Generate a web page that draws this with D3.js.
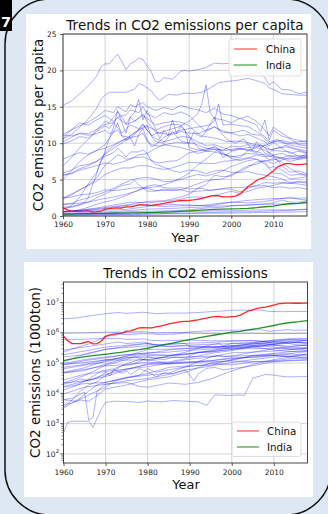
<!DOCTYPE html>
<html>
<head>
<meta charset="utf-8">
<script src="https://cdn.jsdelivr.net/npm/d3@7"></script>
<style>
  html, body { margin: 0; padding: 0; background: #dde8f4; }
  svg { display: block; font-family: "DejaVu Sans", sans-serif; }
</style>
</head>
<body>
<svg id="fig" width="328" height="514"></svg>
<script>
// ---------------------------------------------------------------
// Data: [year, value] pairs
// ---------------------------------------------------------------
const xTicks = [1960, 1970, 1980, 1990, 2000, 2010];
const perCapitaTicks = [0, 5, 10, 15, 20, 25];
const totalTickExponents = [2, 3, 4, 5, 6, 7];
const legendLabels = ["China", "India"];

// CO2 emissions per capita (metric tons)
const chinaPerCapita = [[1960,1.17],[1961,0.84],[1962,0.66],[1963,0.64],[1964,0.63],[1965,0.66],[1966,0.71],[1967,0.58],[1968,0.59],[1969,0.67],[1970,0.93],[1971,1.02],[1972,1.07],[1973,1.10],[1974,1.10],[1975,1.24],[1976,1.25],[1977,1.37],[1978,1.52],[1979,1.53],[1980,1.49],[1981,1.46],[1982,1.56],[1983,1.63],[1984,1.73],[1985,1.86],[1986,1.94],[1987,2.03],[1988,2.13],[1989,2.13],[1990,2.15],[1991,2.22],[1992,2.30],[1993,2.43],[1994,2.55],[1995,2.74],[1996,2.80],[1997,2.78],[1998,2.64],[1999,2.62],[2000,2.66],[2001,2.74],[2002,3.00],[2003,3.50],[2004,4.06],[2005,4.44],[2006,4.88],[2007,5.15],[2008,5.31],[2009,5.76],[2010,6.17],[2011,6.75],[2012,7.00],[2013,7.20],[2014,7.20],[2015,7.10],[2016,7.05],[2017,7.10],[2018,7.15]];

const indiaPerCapita = [[1960,0.27],[1962,0.30],[1964,0.32],[1966,0.34],[1968,0.35],[1970,0.36],[1972,0.38],[1974,0.39],[1976,0.42],[1978,0.43],[1980,0.45],[1982,0.49],[1984,0.53],[1986,0.58],[1988,0.65],[1990,0.71],[1992,0.78],[1994,0.84],[1996,0.90],[1998,0.94],[2000,0.98],[2002,1.00],[2004,1.05],[2006,1.14],[2008,1.27],[2010,1.36],[2012,1.55],[2014,1.68],[2016,1.73],[2018,1.90]];

const otherPerCapita = [
  [[1960,15.2],[1962,15.8],[1964,16.8],[1966,17.9],[1968,19.2],[1969,20.5],[1970,20.9],[1971,20.9],[1972,21.6],[1973,22.2],[1974,21.2],[1975,20.1],[1976,20.9],[1977,21.2],[1978,21.7],[1979,21.5],[1980,20.6],[1981,19.8],[1982,18.4],[1983,18.5],[1984,19.0],[1985,18.9],[1986,18.8],[1987,19.3],[1988,19.9],[1989,20.0],[1990,19.9],[1992,20.1],[1994,20.4],[1996,21.0],[1998,20.9],[2000,21.0],[2001,20.6],[2003,20.4],[2005,20.2],[2006,19.8],[2007,19.6],[2008,19.0],[2009,18.0],[2010,18.4],[2011,17.9],[2012,17.4],[2014,17.3],[2016,16.8],[2018,17.0]],
  [[1960,10.6],[1962,11.2],[1964,12.2],[1966,13.3],[1968,14.8],[1969,16.0],[1970,16.6],[1971,17.0],[1973,17.0],[1975,17.0],[1977,17.4],[1978,18.2],[1979,18.0],[1980,17.6],[1981,17.2],[1982,16.4],[1983,15.9],[1985,16.7],[1987,16.6],[1989,16.9],[1991,16.8],[1993,17.0],[1995,17.6],[1997,18.3],[1999,18.5],[2001,18.6],[2004,18.9],[2006,18.6],[2008,18.2],[2009,17.6],[2010,17.4],[2012,16.8],[2014,16.7],[2016,16.6],[2018,16.6]],
  [[1960,11.2],[1962,11.8],[1964,12.4],[1966,12.9],[1968,13.6],[1970,14.5],[1972,14.2],[1973,15.0],[1975,14.3],[1976,15.3],[1977,15.0],[1979,15.6],[1980,15.0],[1982,14.5],[1984,14.9],[1986,14.6],[1988,15.2],[1990,14.8],[1992,14.6],[1994,14.2],[1996,14.8],[1998,14.0],[2000,13.8],[2002,13.4],[2004,13.7],[2006,13.0],[2008,11.8],[2009,11.0],[2010,12.2],[2012,11.4],[2014,10.7],[2016,10.4],[2018,10.2]],
  [[1960,10.6],[1962,11.9],[1964,12.8],[1966,12.5],[1968,13.2],[1970,13.8],[1972,13.0],[1973,13.6],[1975,13.9],[1976,14.6],[1978,14.2],[1979,15.0],[1980,14.0],[1982,13.5],[1984,14.2],[1986,13.9],[1988,14.3],[1990,13.8],[1992,12.6],[1994,11.6],[1996,12.3],[1998,11.5],[2000,11.4],[2003,11.8],[2005,11.2],[2007,11.1],[2009,10.0],[2011,10.3],[2013,9.9],[2015,9.6],[2018,9.3]],
  [[1960,11.1],[1962,11.0],[1964,11.3],[1966,11.1],[1968,11.3],[1970,11.8],[1971,11.3],[1973,11.8],[1974,11.0],[1976,10.8],[1978,11.0],[1979,11.4],[1980,10.3],[1981,9.8],[1983,9.6],[1985,9.9],[1987,10.1],[1989,10.0],[1991,10.0],[1993,9.5],[1995,9.2],[1997,9.1],[1999,9.0],[2001,9.3],[2003,9.2],[2005,9.0],[2007,8.7],[2009,7.7],[2010,7.9],[2012,7.4],[2014,6.5],[2016,5.9],[2018,5.6]],
  [[1960,10.2],[1962,10.8],[1964,11.4],[1966,11.3],[1968,11.9],[1970,12.6],[1972,12.8],[1973,13.5],[1975,12.6],[1977,13.0],[1979,13.8],[1980,13.4],[1982,12.5],[1984,12.8],[1986,13.0],[1988,12.9],[1990,12.4],[1991,11.8],[1993,11.0],[1995,10.8],[1997,10.6],[1999,10.2],[2001,10.3],[2003,10.2],[2005,9.9],[2007,9.7],[2009,9.1],[2011,9.3],[2013,9.5],[2015,9.2],[2018,8.7]],
  [[1960,9.9],[1962,10.3],[1964,10.9],[1966,10.7],[1968,11.8],[1970,13.0],[1971,12.8],[1973,14.3],[1974,13.6],[1975,12.6],[1976,13.6],[1977,13.0],[1979,14.0],[1980,13.0],[1982,11.5],[1984,11.3],[1986,11.2],[1988,11.6],[1990,11.4],[1992,11.3],[1994,11.8],[1996,12.2],[1998,11.7],[2000,11.4],[2002,11.0],[2004,11.2],[2006,10.7],[2008,10.2],[2009,9.6],[2010,10.1],[2012,9.3],[2014,8.6],[2016,8.9],[2018,8.6]],
  [[1960,7.8],[1962,8.3],[1964,8.7],[1966,8.5],[1968,9.0],[1970,9.3],[1972,9.8],[1974,10.3],[1976,11.0],[1978,11.8],[1980,12.3],[1982,11.8],[1984,12.3],[1986,12.6],[1988,12.5],[1990,10.9],[1992,9.4],[1994,8.9],[1996,9.2],[1998,8.5],[2000,8.1],[2002,8.3],[2004,8.6],[2006,8.5],[2008,8.4],[2010,8.1],[2012,8.0],[2014,7.8],[2016,8.0],[2018,8.2]],
  [[1960,6.9],[1962,8.0],[1964,9.4],[1966,10.5],[1968,11.6],[1970,12.4],[1971,12.0],[1972,12.8],[1974,11.4],[1976,12.5],[1978,12.0],[1979,12.6],[1980,11.8],[1982,10.2],[1984,10.0],[1986,11.6],[1988,10.3],[1990,10.0],[1991,11.5],[1993,10.8],[1994,11.7],[1996,13.6],[1997,11.8],[1999,10.5],[2001,10.0],[2003,10.6],[2005,9.0],[2006,10.2],[2008,8.6],[2010,8.3],[2012,6.9],[2014,6.0],[2016,6.2],[2018,5.8]],
  [[1960,5.9],[1962,6.3],[1964,6.9],[1966,7.1],[1968,7.5],[1970,8.2],[1972,8.7],[1973,9.3],[1974,8.8],[1975,8.1],[1976,8.8],[1978,8.8],[1979,9.1],[1980,8.6],[1981,7.6],[1982,7.1],[1984,6.7],[1986,6.2],[1988,6.0],[1990,6.3],[1992,6.2],[1994,5.8],[1996,6.2],[1998,6.3],[2000,6.0],[2002,6.0],[2004,6.1],[2006,5.8],[2008,5.6],[2010,5.4],[2012,5.1],[2014,4.6],[2016,4.7],[2018,4.5]],
  [[1960,2.5],[1962,3.0],[1964,3.6],[1966,4.2],[1968,5.2],[1970,7.0],[1971,7.4],[1973,8.4],[1974,8.2],[1975,7.8],[1977,8.0],[1979,8.1],[1980,7.9],[1982,7.4],[1983,7.3],[1985,7.5],[1987,7.6],[1989,8.3],[1990,8.7],[1992,8.9],[1994,9.2],[1996,9.4],[1998,9.0],[2000,9.6],[2002,9.5],[2004,9.8],[2006,9.6],[2007,9.8],[2008,9.4],[2009,8.6],[2010,9.2],[2012,9.5],[2013,9.7],[2015,9.3],[2018,8.9]],
  [[1960,0.5],[1963,0.7],[1966,1.2],[1969,1.8],[1972,2.2],[1975,2.8],[1978,3.6],[1980,3.9],[1982,4.0],[1984,4.3],[1986,4.7],[1988,5.2],[1990,5.9],[1992,7.0],[1994,7.8],[1996,8.7],[1997,9.2],[1998,8.0],[2000,8.9],[2002,9.2],[2004,9.4],[2006,9.5],[2008,9.7],[2010,10.2],[2012,10.4],[2014,10.1],[2016,10.2],[2018,10.3]],
  [[1960,0.9],[1962,1.4],[1964,2.6],[1966,4.4],[1968,6.0],[1969,7.5],[1970,8.9],[1971,10.6],[1972,12.2],[1973,14.5],[1974,12.8],[1975,11.4],[1976,13.6],[1977,14.2],[1978,16.0],[1979,13.2],[1980,14.5],[1981,13.1],[1982,12.0],[1983,10.6],[1984,11.8],[1985,11.0],[1986,13.2],[1987,11.3],[1988,12.4],[1990,13.0],[1991,13.5],[1992,14.0],[1993,15.4],[1994,18.0],[1995,14.2],[1996,13.4],[1998,13.2],[2000,12.8],[2002,13.4],[2004,13.0],[2006,12.5],[2007,11.6],[2008,13.2],[2009,10.4],[2010,11.8],[2012,11.0],[2014,10.6],[2016,9.8],[2018,9.6]],
  [[1960,5.0],[1962,6.2],[1964,7.5],[1966,8.4],[1968,9.0],[1970,9.8],[1972,11.5],[1973,12.8],[1974,11.0],[1975,10.4],[1976,10.8],[1977,9.6],[1978,11.2],[1979,12.0],[1980,10.5],[1981,9.5],[1982,9.8],[1984,10.8],[1986,11.4],[1988,11.8],[1990,12.0],[1992,12.2],[1994,12.4],[1995,12.6],[1996,13.0],[1997,15.4],[1998,12.5],[2000,12.6],[2002,12.4],[2004,12.3],[2006,11.6],[2008,10.9],[2009,10.2],[2011,10.5],[2013,10.0],[2015,9.9],[2018,9.9]],
  [[1960,1.2],[1962,1.3],[1964,1.6],[1965,1.8],[1966,2.5],[1967,4.2],[1968,5.8],[1969,7.5],[1970,8.6],[1971,9.2],[1972,9.6],[1974,10.4],[1976,10.6],[1978,11.8],[1979,12.6],[1980,11.8],[1982,10.6],[1984,10.2],[1986,10.5],[1988,10.9],[1990,10.8],[1992,10.2],[1994,9.7],[1996,9.8],[1998,9.4],[2000,9.0],[2002,9.2],[2004,9.0],[2006,9.4],[2008,9.0],[2010,8.4],[2012,8.6],[2014,8.2],[2016,8.3],[2018,8.3]],
  [[1960,5.6],[1962,5.8],[1964,6.3],[1966,6.6],[1968,6.9],[1970,7.3],[1972,7.1],[1974,7.4],[1976,7.8],[1978,8.4],[1980,8.6],[1982,9.3],[1984,9.8],[1986,9.6],[1988,9.4],[1990,9.1],[1992,8.6],[1994,8.9],[1996,8.8],[1998,8.5],[2000,8.2],[2002,8.0],[2004,9.0],[2006,8.7],[2008,9.8],[2009,9.2],[2010,9.0],[2012,8.9],[2014,8.8],[2016,8.2],[2018,8.0]],
  [[1960,2.3],[1962,2.9],[1964,3.6],[1966,4.2],[1968,4.8],[1970,5.7],[1972,6.2],[1974,6.6],[1976,6.6],[1978,6.9],[1980,6.9],[1982,6.6],[1984,6.4],[1986,6.6],[1988,7.0],[1990,7.4],[1992,7.3],[1994,7.2],[1996,7.2],[1998,7.5],[2000,7.6],[2002,7.8],[2004,8.0],[2006,7.8],[2008,7.4],[2009,6.6],[2010,6.8],[2012,6.3],[2014,5.6],[2016,5.7],[2018,5.6]],
  [[1960,1.6],[1962,1.7],[1964,2.2],[1966,2.5],[1968,2.9],[1970,3.3],[1972,3.8],[1974,4.4],[1976,4.9],[1978,5.2],[1980,5.3],[1982,5.1],[1984,4.7],[1986,4.8],[1988,5.0],[1990,5.4],[1992,5.7],[1994,5.5],[1996,5.8],[1998,6.2],[2000,6.8],[2002,7.2],[2004,7.6],[2006,7.8],[2008,7.1],[2010,5.9],[2012,5.8],[2014,5.1],[2016,5.2],[2018,5.4]],
  [[1960,1.0],[1962,1.2],[1964,1.5],[1966,1.9],[1968,2.5],[1970,3.0],[1972,3.6],[1974,4.2],[1976,4.4],[1977,4.9],[1978,4.3],[1980,3.4],[1982,3.4],[1984,3.7],[1986,3.5],[1988,3.6],[1990,4.0],[1992,4.4],[1994,4.8],[1996,5.0],[1998,5.1],[2000,5.7],[2002,6.1],[2004,6.7],[2006,7.4],[2008,7.6],[2010,7.7],[2012,8.0],[2014,8.3],[2016,8.0],[2018,8.6]],
  [[1960,1.6],[1963,1.7],[1966,1.9],[1969,2.3],[1972,2.6],[1975,3.0],[1978,3.5],[1980,4.1],[1982,4.3],[1984,3.9],[1986,3.8],[1988,3.9],[1990,3.7],[1993,3.8],[1995,3.5],[1998,3.8],[2000,3.9],[2002,3.9],[2004,4.0],[2006,4.1],[2008,4.2],[2010,3.9],[2012,4.0],[2014,3.8],[2016,3.9],[2018,3.7]],
  [[1960,2.5],[1962,2.6],[1964,2.9],[1966,3.0],[1968,3.2],[1970,3.6],[1972,3.5],[1974,3.6],[1976,3.8],[1978,3.9],[1980,3.8],[1982,3.5],[1984,3.5],[1986,3.6],[1988,3.6],[1990,3.3],[1992,3.4],[1994,3.5],[1996,3.6],[1998,3.7],[2000,3.7],[2002,3.3],[2004,3.8],[2006,4.2],[2008,4.6],[2010,4.5],[2012,4.6],[2014,4.5],[2016,4.4],[2018,4.2]],
  [[1960,0.6],[1964,0.8],[1968,1.1],[1972,1.5],[1976,1.9],[1980,1.8],[1984,2.0],[1988,2.3],[1990,2.6],[1994,2.6],[1998,3.1],[2000,3.4],[2002,3.1],[2004,3.4],[2006,3.8],[2008,4.0],[2010,4.2],[2012,4.5],[2014,4.5],[2016,4.7],[2018,4.7]],
  [[1960,0.65],[1964,0.71],[1968,0.9],[1972,1.2],[1976,1.5],[1980,1.5],[1984,1.3],[1988,1.4],[1990,1.4],[1994,1.5],[1998,1.8],[2000,1.9],[2004,1.8],[2008,2.0],[2010,2.2],[2012,2.4],[2014,2.6],[2016,2.3],[2018,2.2]],
  [[1960,0.6],[1964,0.8],[1968,1.0],[1972,1.3],[1976,1.6],[1980,2.0],[1984,2.1],[1988,2.6],[1990,3.0],[1992,3.8],[1994,4.3],[1996,5.6],[1998,5.4],[2000,5.5],[2002,6.3],[2004,6.9],[2006,7.1],[2008,7.6],[2010,7.2],[2012,7.7],[2014,8.0],[2016,7.8],[2018,7.9]],
  [[1960,0.25],[1964,0.27],[1968,0.3],[1972,0.45],[1976,0.6],[1980,0.65],[1984,0.7],[1988,0.8],[1990,0.85],[1994,1.1],[1998,1.2],[2000,1.4],[2004,1.5],[2008,1.7],[2010,1.8],[2012,2.2],[2014,1.9],[2016,1.9],[2018,2.1]],
  [[1960,0.3],[1965,0.35],[1970,0.38],[1975,0.42],[1980,0.45],[1985,0.55],[1990,0.62],[1995,0.7],[2000,0.72],[2005,0.82],[2010,0.85],[2014,0.82],[2018,0.95]],
  [[1960,5.6],[1962,5.9],[1964,6.5],[1966,6.9],[1968,7.5],[1970,8.5],[1972,9.3],[1974,10.0],[1976,11.0],[1978,11.9],[1980,12.5],[1981,11.0],[1982,11.3],[1984,11.6],[1986,12.0],[1988,12.3],[1989,11.8],[1990,9.4],[1992,9.1],[1994,9.0],[1996,9.6],[1998,8.7],[2000,7.9],[2002,7.6],[2004,7.9],[2006,8.4],[2008,8.1],[2010,8.3],[2012,7.9],[2014,7.5],[2016,7.8],[2018,8.2]],
  [[1960,0.6],[1965,0.75],[1970,0.8],[1975,0.9],[1980,1.3],[1985,1.6],[1990,1.5],[1995,1.4],[2000,1.9],[2005,2.2],[2010,2.4],[2014,2.4],[2018,2.5]],
  [[1960,0.15],[1965,0.2],[1970,0.2],[1975,0.25],[1980,0.3],[1985,0.35],[1990,0.42],[1995,0.5],[2000,0.55],[2005,0.6],[2010,0.7],[2014,0.8],[2018,0.9]],
  [[1960,0.1],[1965,0.12],[1970,0.16],[1975,0.2],[1980,0.25],[1985,0.3],[1990,0.33],[1995,0.38],[2000,0.4],[2005,0.45],[2010,0.5],[2014,0.55],[2018,0.6]],
  [[1960,0.4],[1964,0.45],[1968,0.5],[1972,0.62],[1976,0.75],[1980,0.95],[1984,1.0],[1988,1.1],[1992,1.2],[1996,1.35],[2000,1.4],[2004,1.5],[2008,1.6],[2012,1.65],[2016,1.7],[2018,1.75]]
];

// Total CO2 emissions (kt)
const chinaTotal = [[1960,7.8e5],[1961,5.5e5],[1962,4.4e5],[1963,4.4e5],[1964,4.4e5],[1965,4.8e5],[1966,5.2e5],[1967,4.3e5],[1968,4.4e5],[1969,5.4e5],[1970,7.7e5],[1971,8.6e5],[1972,9.1e5],[1973,9.5e5],[1974,9.8e5],[1975,1.14e6],[1976,1.17e6],[1977,1.31e6],[1978,1.46e6],[1979,1.49e6],[1980,1.47e6],[1981,1.46e6],[1982,1.58e6],[1983,1.67e6],[1984,1.81e6],[1985,1.97e6],[1986,2.08e6],[1987,2.21e6],[1988,2.35e6],[1989,2.39e6],[1990,2.42e6],[1991,2.56e6],[1992,2.70e6],[1993,2.88e6],[1994,3.06e6],[1995,3.32e6],[1996,3.46e6],[1997,3.47e6],[1998,3.32e6],[1999,3.32e6],[2000,3.41e6],[2001,3.49e6],[2002,3.85e6],[2003,4.52e6],[2004,5.29e6],[2005,5.79e6],[2006,6.41e6],[2007,6.79e6],[2008,7.04e6],[2009,7.69e6],[2010,8.26e6],[2011,9.09e6],[2012,9.37e6],[2013,9.55e6],[2014,9.55e6],[2015,9.50e6],[2016,9.50e6],[2017,9.55e6],[2018,9.60e6]];

const indiaTotal = [[1960,1.2e5],[1962,1.37e5],[1964,1.55e5],[1966,1.7e5],[1968,1.85e5],[1970,1.96e5],[1972,2.15e5],[1974,2.3e5],[1976,2.6e5],[1978,2.8e5],[1980,3.1e5],[1982,3.55e5],[1984,4.05e5],[1986,4.6e5],[1988,5.3e5],[1990,6.0e5],[1992,6.8e5],[1994,7.6e5],[1996,8.5e5],[1998,9.4e5],[2000,1.05e6],[2002,1.12e6],[2004,1.25e6],[2006,1.38e6],[2008,1.55e6],[2010,1.75e6],[2012,2.0e6],[2014,2.2e6],[2016,2.35e6],[2018,2.55e6]];

const otherTotal = [
  [[1960,2.9e6],[1963,3.1e6],[1966,3.6e6],[1969,4.1e6],[1970,4.3e6],[1973,4.7e6],[1975,4.4e6],[1977,4.6e6],[1979,4.8e6],[1982,4.3e6],[1985,4.5e6],[1989,4.5e6],[1992,4.7e6],[1995,5.0e6],[1998,5.3e6],[2000,5.6e6],[2003,5.6e6],[2005,5.7e6],[2007,5.6e6],[2009,5.1e6],[2012,5.0e6],[2015,5.1e6],[2018,5.1e6]],
  [[1960,9.8e5],[1965,1.0e6],[1970,1.05e6],[1975,1.04e6],[1979,1.1e6],[1982,1.0e6],[1985,1.02e6],[1989,1.0e6],[1992,9.6e5],[1996,9.5e5],[2000,9.4e5],[2004,9.6e5],[2008,9.5e5],[2012,9.4e5],[2018,9.6e5]],
  [[1960,2.3e5],[1962,2.9e5],[1964,3.6e5],[1966,4.3e5],[1968,5.6e5],[1970,7.7e5],[1972,8.2e5],[1973,9.2e5],[1975,8.7e5],[1977,9.0e5],[1979,9.4e5],[1981,9.2e5],[1983,8.8e5],[1985,9.0e5],[1987,9.2e5],[1989,1.03e6],[1991,1.1e6],[1994,1.16e6],[1997,1.19e6],[2000,1.22e6],[2003,1.24e6],[2005,1.24e6],[2007,1.26e6],[2009,1.12e6],[2011,1.2e6],[2013,1.27e6],[2015,1.22e6],[2018,1.25e6]],
  [[1960,5.9e5],[1965,6.2e5],[1970,6.5e5],[1973,6.6e5],[1975,6.1e5],[1979,6.3e5],[1981,5.6e5],[1984,5.5e5],[1989,5.8e5],[1995,5.5e5],[2000,5.5e5],[2005,5.5e5],[2009,4.9e5],[2012,4.9e5],[2015,4.1e5],[2018,3.9e5]],
  [[1960,2.7e5],[1965,3.4e5],[1970,4.3e5],[1973,5.0e5],[1975,4.4e5],[1979,5.0e5],[1981,4.3e5],[1985,3.6e5],[1989,3.7e5],[1995,3.5e5],[2000,3.6e5],[2005,3.8e5],[2010,3.4e5],[2014,2.9e5],[2018,3.0e5]],
  [[1960,1.1e5],[1965,2.0e5],[1970,2.9e5],[1975,3.3e5],[1980,3.7e5],[1985,3.5e5],[1989,3.9e5],[1995,4.2e5],[2000,4.4e5],[2005,4.6e5],[2010,4.0e5],[2014,3.2e5],[2018,3.3e5]],
  [[1960,1.9e5],[1965,2.5e5],[1970,3.4e5],[1975,3.9e5],[1979,4.4e5],[1983,3.9e5],[1989,4.5e5],[1995,4.8e5],[2000,5.3e5],[2005,5.6e5],[2009,5.1e5],[2014,5.4e5],[2018,5.6e5]],
  [[1960,1.6e5],[1965,1.9e5],[1970,2.8e5],[1975,3.6e5],[1980,4.5e5],[1982,3.9e5],[1987,4.6e5],[1989,4.4e5],[1990,3.5e5],[1995,3.4e5],[2000,3.0e5],[2005,3.0e5],[2010,3.1e5],[2014,2.9e5],[2018,3.1e5]],
  [[1960,8.8e4],[1965,1.2e5],[1970,1.5e5],[1975,1.9e5],[1980,2.2e5],[1985,2.3e5],[1989,2.6e5],[1995,2.9e5],[2000,3.4e5],[2005,3.7e5],[2009,4.0e5],[2014,3.6e5],[2018,3.9e5]],
  [[1960,6.5e4],[1965,8.5e4],[1970,1.1e5],[1975,1.7e5],[1980,2.8e5],[1985,2.9e5],[1989,3.1e5],[1995,3.2e5],[2000,3.8e5],[2005,4.3e5],[2010,4.4e5],[2014,4.7e5],[2018,4.7e5]],
  [[1960,9.8e4],[1965,1.3e5],[1970,1.6e5],[1975,1.9e5],[1980,2.1e5],[1985,2.7e5],[1989,3.0e5],[1995,3.4e5],[2000,3.7e5],[2005,4.2e5],[2008,4.9e5],[2010,4.6e5],[2014,4.9e5],[2018,4.6e5]],
  [[1960,1.3e4],[1963,1.8e4],[1966,3.0e4],[1969,5.5e4],[1972,6.5e4],[1975,9.5e4],[1978,1.3e5],[1980,1.3e5],[1984,1.6e5],[1989,2.3e5],[1992,3.1e5],[1995,4.0e5],[1997,4.5e5],[1998,3.7e5],[2000,4.5e5],[2005,4.8e5],[2010,5.8e5],[2014,5.9e5],[2018,6.2e5]],
  [[1960,2.2e4],[1965,3.9e4],[1970,8.5e4],[1974,1.2e5],[1977,1.6e5],[1980,1.2e5],[1985,1.7e5],[1989,1.9e5],[1995,2.6e5],[2000,3.4e5],[2005,4.6e5],[2010,5.7e5],[2014,6.5e5],[2018,6.6e5]],
  [[1960,3.5e3],[1962,6.0e3],[1964,1.2e4],[1966,1.9e4],[1968,2.4e4],[1970,3.9e4],[1972,5.6e4],[1974,8.3e4],[1976,8.8e4],[1978,1.1e5],[1980,1.6e5],[1982,1.4e5],[1984,1.3e5],[1986,1.6e5],[1989,1.5e5],[1992,2.3e5],[1995,2.3e5],[2000,2.9e5],[2005,3.7e5],[2010,5.2e5],[2014,6.0e5],[2018,5.4e5]],
  [[1960,2.2e4],[1965,2.6e4],[1970,3.6e4],[1975,6.0e4],[1980,9.5e4],[1985,1.1e5],[1989,1.4e5],[1995,2.1e5],[2000,2.6e5],[2005,3.4e5],[2010,4.1e5],[2014,4.6e5],[2018,5.8e5]],
  [[1960,4.7e4],[1965,5.7e4],[1970,9.2e4],[1975,1.5e5],[1980,1.8e5],[1985,1.8e5],[1989,2.0e5],[1995,2.5e5],[2000,3.2e5],[2005,3.4e5],[2010,4.2e5],[2014,5.2e5],[2018,4.5e5]],
  [[1960,1.7e4],[1965,2.5e4],[1970,4.2e4],[1975,6.4e4],[1980,7.6e4],[1985,1.0e5],[1989,1.3e5],[1995,1.6e5],[2000,2.2e5],[2005,2.3e5],[2010,3.0e5],[2014,3.5e5],[2018,4.0e5]],
  [[1960,5.0e4],[1965,7.0e4],[1970,1.2e5],[1975,1.7e5],[1980,2.0e5],[1985,1.8e5],[1989,2.0e5],[1995,2.4e5],[2000,2.8e5],[2005,3.5e5],[2010,2.7e5],[2014,2.4e5],[2018,2.6e5]],
  [[1960,3.3e3],[1962,4.8e3],[1964,7.0e3],[1966,1.2e4],[1968,1.9e4],[1970,2.3e4],[1975,3.3e4],[1980,4.0e4],[1985,4.7e4],[1989,7.5e4],[1992,1.1e5],[1995,1.6e5],[1997,1.8e5],[1998,1.6e5],[2000,1.7e5],[2005,2.3e5],[2010,2.5e5],[2014,2.8e5],[2018,3.0e5]],
  [[1960,5.0e2],[1961,1.1e3],[1962,1.2e3],[1964,1.2e3],[1966,1.2e3],[1967,7.5e2],[1968,1.5e3],[1969,3.0e3],[1970,5.0e3],[1972,5.5e3],[1975,5.4e3],[1978,5.0e3],[1980,5.6e3],[1983,5.2e3],[1986,5.8e3],[1989,5.5e3],[1992,5.3e3],[1994,4.0e3],[1996,9.0e3],[1999,8.5e3],[2002,9.0e3],[2003,8.5e3],[2005,3.2e4],[2008,4.2e4],[2010,4.0e4],[2013,3.5e4],[2018,3.6e4]],
  [[1960,7.3e4],[1965,9.0e4],[1970,1.3e5],[1975,1.5e5],[1980,1.6e5],[1985,1.5e5],[1989,1.6e5],[1995,1.7e5],[2000,1.7e5],[2005,1.8e5],[2010,1.8e5],[2014,1.6e5],[2018,1.6e5]],
  [[1960,9.0e4],[1965,1.05e5],[1970,1.27e5],[1975,1.25e5],[1980,1.3e5],[1985,1.0e5],[1989,1.05e5],[1995,1.1e5],[2000,1.18e5],[2005,1.1e5],[2010,1.15e5],[2014,1.25e5],[2018,1.3e5]],
  [[1960,4.8e4],[1965,6.2e4],[1970,8.2e4],[1975,8.9e4],[1980,1.07e5],[1985,9.6e4],[1989,1.1e5],[1995,1.2e5],[2000,1.4e5],[2005,1.6e5],[2010,1.8e5],[2014,2.0e5],[2018,1.8e5]],
  [[1960,1.6e4],[1965,2.1e4],[1970,2.3e4],[1975,3.4e4],[1980,4.5e4],[1985,7.2e4],[1989,8.0e4],[1995,8.5e4],[2000,1.3e5],[2005,1.7e5],[2010,2.0e5],[2014,2.1e5],[2018,2.4e5]],
  [[1960,2.8e4],[1965,4.3e4],[1970,5.3e4],[1975,6.4e4],[1980,9.0e4],[1985,9.4e4],[1989,1.0e5],[1995,1.2e5],[2000,1.5e5],[2005,1.5e5],[2010,1.8e5],[2014,1.7e5],[2018,1.4e5]],
  [[1960,9.6e3],[1965,1.6e4],[1970,2.0e4],[1975,2.6e4],[1980,3.1e4],[1985,4.2e4],[1989,5.9e4],[1995,8.0e4],[2000,1.05e5],[2005,1.3e5],[2010,1.6e5],[2014,1.7e5],[2018,2.0e5]],
  [[1960,4.3e3],[1962,4.8e3],[1964,6.0e3],[1966,5.5e3],[1968,8.5e3],[1970,1.4e4],[1975,1.9e4],[1980,2.8e4],[1985,3.5e4],[1989,5.0e4],[1995,1.0e5],[2000,1.25e5],[2005,1.8e5],[2010,2.1e5],[2014,2.4e5],[2018,2.5e5]],
  [[1960,6.3e3],[1962,6.8e3],[1965,1.1e4],[1966,1.3e3],[1967,1.6e3],[1968,1.2e4],[1970,2.0e4],[1975,2.3e4],[1978,1.7e4],[1980,1.6e4],[1985,2.2e4],[1989,2.0e4],[1992,2.3e4],[1995,3.0e4],[2000,5.5e4],[2005,9.0e4],[2010,1.3e5],[2014,1.6e5],[2018,2.0e5]],
  [[1960,2.0e4],[1962,2.4e4],[1964,3.0e4],[1966,2.6e4],[1968,3.2e4],[1970,5.0e4],[1971,3.8e4],[1972,6.2e4],[1974,4.6e4],[1975,5.5e4],[1976,4.2e4],[1978,6.6e4],[1980,5.2e4],[1982,3.6e4],[1984,4.8e4],[1986,4.4e4],[1988,5.5e4],[1989,6.0e4],[1990,4.0e4],[1991,2.6e4],[1992,4.4e4],[1994,6.7e4],[1996,7.2e4],[1998,6.0e4],[2000,6.6e4],[2003,7.4e4],[2006,8.6e4],[2008,1.0e5],[2010,1.1e5],[2014,1.2e5],[2018,1.25e5]],
  [[1960,6.2e3],[1963,5.5e3],[1965,7.5e3],[1968,1.2e4],[1970,1.6e4],[1972,2.5e4],[1975,3.2e4],[1978,3.9e4],[1980,6.6e4],[1982,5.0e4],[1985,6.0e4],[1989,7.5e4],[1995,9.5e4],[2000,8.7e4],[2005,1.1e5],[2010,1.2e5],[2014,1.4e5],[2018,1.5e5]]
];

// ---------------------------------------------------------------
// Figure layout
// ---------------------------------------------------------------
const svg = d3.select("#fig");
const FONT = "DejaVu Sans, sans-serif";

svg.append("rect").attr("width", 328).attr("height", 514).attr("fill", "#dde8f4");

// outer rounded frame
svg.append("rect")
  .attr("x", 5).attr("y", -1).attr("width", 326).attr("height", 516)
  .attr("rx", 45).attr("ry", 45)
  .attr("fill", "none").attr("stroke", "#111").attr("stroke-width", 1.5);

// panel number tab
svg.append("rect").attr("x", 0).attr("y", 0).attr("width", 12).attr("height", 31).attr("fill", "#000");
svg.append("text").attr("x", 1).attr("y", 27)
  .attr("text-anchor", "start").attr("fill", "#fff")
  .attr("font-size", 14.5).attr("font-weight", "bold").attr("font-family", FONT)
  .text("7");

// white panels
svg.append("rect").attr("x", 26).attr("y", 14).attr("width", 285).attr("height", 235).attr("fill", "#fff");
svg.append("rect").attr("x", 24).attr("y", 262).attr("width", 289).attr("height", 235).attr("fill", "#fff");

const gridColor = "#cfcfcf";
const spineColor = "#333";
const tickFont = 7.5;

function drawSeries(g, x, y, clipId, others, china, india) {
  const line = d3.line().x(d => x(d[0])).y(d => y(d[1]));
  const lines = g.append("g").attr("clip-path", `url(#${clipId})`);
  lines.selectAll("path.other").data(others).join("path")
    .attr("class", "other")
    .attr("d", line)
    .attr("fill", "none").attr("stroke", "#0000ff")
    .attr("stroke-opacity", 0.32).attr("stroke-width", 1)
    .attr("stroke-linejoin", "round");
  lines.append("path").attr("d", line(china))
    .attr("fill", "none").attr("stroke", "#ff0000").attr("stroke-opacity", 0.85)
    .attr("stroke-width", 1.3).attr("stroke-linejoin", "round");
  lines.append("path").attr("d", line(india))
    .attr("fill", "none").attr("stroke", "#008000").attr("stroke-opacity", 0.85)
    .attr("stroke-width", 1.3).attr("stroke-linejoin", "round");
}

function drawFrame(g, x, y) {
  const [x0, x1] = x.range();
  const [y0, y1] = y.range();
  g.append("rect")
    .attr("x", x0).attr("y", y1).attr("width", x1 - x0).attr("height", y0 - y1)
    .attr("fill", "none").attr("stroke", spineColor).attr("stroke-width", 0.9);
}

function drawLegend(g, bx, by, bw, bh, rowY, lineX0, lineX1, textX, textBase) {
  g.append("rect").attr("x", bx).attr("y", by).attr("width", bw).attr("height", bh)
    .attr("rx", 2).attr("fill", "#fff").attr("fill-opacity", 0.85)
    .attr("stroke", "#d6d6d6").attr("stroke-width", 0.8);
  const colors = ["#ff0000", "#008000"];
  const opac = [0.55, 0.6];
  legendLabels.forEach((lab, i) => {
    g.append("line").attr("x1", lineX0).attr("x2", lineX1)
      .attr("y1", rowY[i]).attr("y2", rowY[i])
      .attr("stroke", colors[i]).attr("stroke-opacity", opac[i]).attr("stroke-width", 1.5);
    g.append("text").attr("x", textX).attr("y", textBase[i])
      .attr("font-size", 10.3).attr("font-family", FONT).attr("fill", "#111")
      .text(lab);
  });
}

// ---------------------------------------------------------------
// Chart 1: per capita
// ---------------------------------------------------------------
{
  const x = d3.scaleLinear().domain([1960, 2018]).range([63, 307]);
  const y = d3.scaleLinear().domain([0, 25]).range([216, 34]);
  const g = svg.append("g");

  svg.append("clipPath").attr("id", "clip1").append("rect")
    .attr("x", 63).attr("y", 34).attr("width", 244).attr("height", 182);

  // grid
  g.append("g").selectAll("line").data(xTicks).join("line")
    .attr("x1", d => x(d)).attr("x2", d => x(d)).attr("y1", 34).attr("y2", 216)
    .attr("stroke", gridColor).attr("stroke-width", 0.9);
  g.append("g").selectAll("line").data(perCapitaTicks).join("line")
    .attr("x1", 63).attr("x2", 307).attr("y1", d => y(d)).attr("y2", d => y(d))
    .attr("stroke", gridColor).attr("stroke-width", 0.9);

  drawSeries(g, x, y, "clip1", otherPerCapita, chinaPerCapita, indiaPerCapita);
  drawFrame(g, x, y);

  const xa = g.append("g").attr("transform", "translate(0,216)")
    .call(d3.axisBottom(x).tickValues(xTicks).tickFormat(d3.format("d")).tickSize(3).tickPadding(2.5));
  const ya = g.append("g").attr("transform", "translate(63,0)")
    .call(d3.axisLeft(y).tickValues(perCapitaTicks).tickSize(3).tickPadding(3.5));
  [xa, ya].forEach(a => {
    a.select(".domain").remove();
    a.selectAll("line").attr("stroke", spineColor).attr("stroke-width", 0.8);
    a.selectAll("text").attr("font-size", tickFont).attr("font-family", FONT).attr("fill", "#222");
  });

  g.append("text").attr("x", 185).attr("y", 30).attr("text-anchor", "middle")
    .attr("font-size", 13.5).attr("font-family", FONT).attr("fill", "#111")
    .text("Trends in CO2 emissions per capita");
  g.append("text").attr("x", 185).attr("y", 241.5).attr("text-anchor", "middle")
    .attr("font-size", 13).attr("font-family", FONT).attr("fill", "#111")
    .text("Year");
  g.append("text").attr("transform", "translate(42.5,125) rotate(-90)")
    .attr("text-anchor", "middle")
    .attr("font-size", 13.5).attr("font-family", FONT).attr("fill", "#111")
    .text("CO2 emissions per capita");

  drawLegend(g, 229, 39, 72, 37, [49, 65], 234, 257, 266, [53, 69]);
}

// ---------------------------------------------------------------
// Chart 2: total emissions, log scale
// ---------------------------------------------------------------
{
  const x = d3.scaleLinear().domain([1960, 2018]).range([63.5, 307.5]);
  const y = d3.scaleLog().domain([Math.pow(10, 1.70), Math.pow(10, 7.68)]).range([463, 282]);
  const g = svg.append("g");

  svg.append("clipPath").attr("id", "clip2").append("rect")
    .attr("x", 63.5).attr("y", 282).attr("width", 244).attr("height", 181);

  const majors = totalTickExponents.map(e => Math.pow(10, e));

  g.append("g").selectAll("line").data(xTicks).join("line")
    .attr("x1", d => x(d)).attr("x2", d => x(d)).attr("y1", 282).attr("y2", 463)
    .attr("stroke", gridColor).attr("stroke-width", 0.9);
  g.append("g").selectAll("line").data(majors).join("line")
    .attr("x1", 63.5).attr("x2", 307.5).attr("y1", d => y(d)).attr("y2", d => y(d))
    .attr("stroke", gridColor).attr("stroke-width", 0.9);

  drawSeries(g, x, y, "clip2", otherTotal, chinaTotal, indiaTotal);
  drawFrame(g, x, y);

  const xa = g.append("g").attr("transform", "translate(0,463)")
    .call(d3.axisBottom(x).tickValues(xTicks).tickFormat(d3.format("d")).tickSize(3).tickPadding(3.5));
  xa.select(".domain").remove();
  xa.selectAll("line").attr("stroke", spineColor).attr("stroke-width", 0.8);
  xa.selectAll("text").attr("font-size", tickFont).attr("font-family", FONT).attr("fill", "#222");

  // minor ticks on the log axis
  const minors = [];
  totalTickExponents.concat([1]).forEach(e => {
    for (let m = 2; m <= 9; m++) {
      const v = m * Math.pow(10, e);
      if (v > y.domain()[0] && v < y.domain()[1]) minors.push(v);
    }
  });
  g.append("g").selectAll("line").data(minors).join("line")
    .attr("x1", 61.5).attr("x2", 63.5).attr("y1", d => y(d)).attr("y2", d => y(d))
    .attr("stroke", spineColor).attr("stroke-width", 0.6);
  g.append("g").selectAll("line").data(majors).join("line")
    .attr("x1", 60.3).attr("x2", 63.5).attr("y1", d => y(d)).attr("y2", d => y(d))
    .attr("stroke", spineColor).attr("stroke-width", 0.8);

  const labels = g.append("g").selectAll("text").data(totalTickExponents).join("text")
    .attr("x", 59).attr("y", e => y(Math.pow(10, e)) + 2.6)
    .attr("text-anchor", "end")
    .attr("font-size", tickFont).attr("font-family", FONT).attr("fill", "#222");
  labels.append("tspan").text("10");
  labels.append("tspan").attr("dy", -3.4).attr("font-size", 5.3).text(e => e);

  g.append("text").attr("x", 185.5).attr("y", 278).attr("text-anchor", "middle")
    .attr("font-size", 13.5).attr("font-family", FONT).attr("fill", "#111")
    .text("Trends in CO2 emissions");
  g.append("text").attr("x", 186).attr("y", 489).attr("text-anchor", "middle")
    .attr("font-size", 13).attr("font-family", FONT).attr("fill", "#111")
    .text("Year");
  g.append("text").attr("transform", "translate(40,372.5) rotate(-90)")
    .attr("text-anchor", "middle")
    .attr("font-size", 13.5).attr("font-family", FONT).attr("fill", "#111")
    .text("CO2 emissions (1000ton)");

  drawLegend(g, 232, 422, 69, 34.5, [431, 447], 237, 259, 267, [435, 451]);
}
</script>
</body>
</html>
